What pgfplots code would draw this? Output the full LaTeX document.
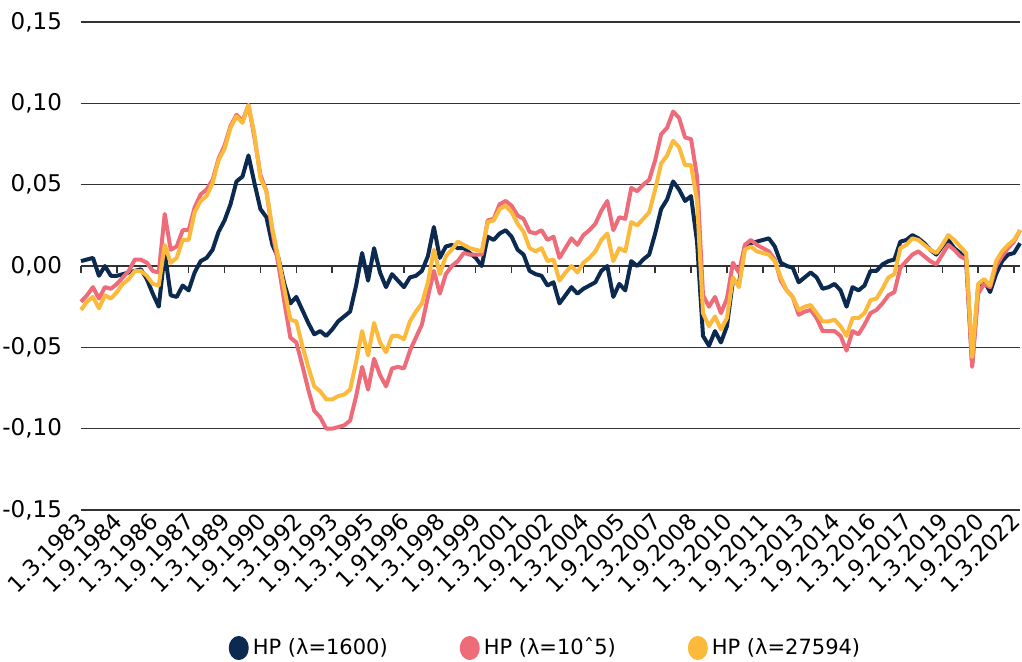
\documentclass[border=0pt]{standalone}
\usepackage{fontspec}
\setmainfont{DejaVu Sans}
\usepackage{pgfplots}
\usepackage{pgfplotstable}
\pgfplotsset{compat=1.18}
\definecolor{navy}{HTML}{0C2A50}
\definecolor{pinkc}{HTML}{EE6C79}
\definecolor{yell}{HTML}{FCBA3C}
\pgfplotstableread{
i n p y
0 0.003 -0.022 -0.027
1 0.004 -0.018 -0.022
2 0.005 -0.013 -0.019
3 -0.006 -0.020 -0.026
4 0.000 -0.013 -0.018
5 -0.006 -0.014 -0.020
6 -0.006 -0.011 -0.016
7 -0.005 -0.007 -0.011
8 -0.004 -0.003 -0.008
9 -0.003 0.004 -0.003
10 -0.002 0.004 -0.003
11 -0.008 0.002 -0.006
12 -0.017 -0.003 -0.011
13 -0.025 -0.004 -0.012
14 0.008 0.032 0.013
15 -0.018 0.010 0.002
16 -0.019 0.012 0.005
17 -0.012 0.022 0.016
18 -0.015 0.022 0.016
19 -0.004 0.036 0.033
20 0.003 0.044 0.040
21 0.005 0.047 0.043
22 0.010 0.053 0.051
23 0.021 0.066 0.065
24 0.028 0.074 0.072
25 0.038 0.086 0.085
26 0.052 0.093 0.092
27 0.055 0.089 0.088
28 0.068 0.099 0.099
29 0.051 0.079 0.081
30 0.035 0.056 0.054
31 0.030 0.046 0.046
32 0.013 0.021 0.023
33 0.005 0.001 0.005
34 -0.011 -0.022 -0.014
35 -0.023 -0.044 -0.033
36 -0.019 -0.047 -0.034
37 -0.027 -0.061 -0.049
38 -0.035 -0.076 -0.062
39 -0.042 -0.089 -0.074
40 -0.040 -0.093 -0.077
41 -0.043 -0.100 -0.082
42 -0.039 -0.100 -0.082
43 -0.034 -0.099 -0.080
44 -0.031 -0.098 -0.079
45 -0.028 -0.095 -0.076
46 -0.012 -0.080 -0.059
47 0.008 -0.062 -0.040
48 -0.009 -0.076 -0.055
49 0.011 -0.057 -0.035
50 -0.004 -0.067 -0.047
51 -0.013 -0.074 -0.053
52 -0.005 -0.063 -0.043
53 -0.009 -0.062 -0.043
54 -0.013 -0.063 -0.045
55 -0.007 -0.052 -0.034
56 -0.006 -0.044 -0.028
57 -0.003 -0.036 -0.023
58 0.006 -0.019 -0.010
59 0.024 -0.003 0.010
60 0.005 -0.017 -0.005
61 0.012 -0.005 0.006
62 0.013 0.000 0.010
63 0.011 0.003 0.015
64 0.011 0.008 0.013
65 0.008 0.007 0.011
66 0.005 0.007 0.010
67 0.000 0.007 0.009
68 0.018 0.028 0.027
69 0.016 0.029 0.028
70 0.020 0.038 0.035
71 0.022 0.040 0.037
72 0.018 0.037 0.033
73 0.010 0.031 0.026
74 0.007 0.029 0.021
75 -0.003 0.021 0.011
76 -0.005 0.020 0.009
77 -0.006 0.022 0.011
78 -0.012 0.016 0.003
79 -0.010 0.018 0.004
80 -0.023 0.005 -0.009
81 -0.018 0.011 -0.004
82 -0.013 0.017 0.000
83 -0.017 0.013 -0.004
84 -0.014 0.019 0.002
85 -0.012 0.022 0.005
86 -0.010 0.026 0.009
87 -0.003 0.034 0.016
88 0.000 0.040 0.020
89 -0.019 0.022 0.003
90 -0.011 0.030 0.011
91 -0.015 0.029 0.009
92 0.003 0.048 0.027
93 0.000 0.046 0.025
94 0.004 0.050 0.029
95 0.007 0.053 0.033
96 0.020 0.065 0.047
97 0.035 0.081 0.063
98 0.041 0.085 0.068
99 0.052 0.095 0.077
100 0.047 0.091 0.073
101 0.040 0.079 0.062
102 0.043 0.078 0.062
103 0.015 0.055 0.040
104 -0.043 -0.018 -0.029
105 -0.049 -0.025 -0.037
106 -0.040 -0.019 -0.031
107 -0.047 -0.029 -0.039
108 -0.037 -0.020 -0.032
109 -0.009 0.002 -0.007
110 -0.011 -0.004 -0.013
111 0.012 0.013 0.010
112 0.014 0.016 0.012
113 0.015 0.013 0.009
114 0.016 0.011 0.008
115 0.017 0.009 0.007
116 0.012 0.004 0.003
117 0.002 -0.009 -0.007
118 0.000 -0.015 -0.015
119 -0.001 -0.019 -0.019
120 -0.010 -0.030 -0.027
121 -0.007 -0.028 -0.025
122 -0.004 -0.027 -0.024
123 -0.007 -0.032 -0.029
124 -0.014 -0.040 -0.034
125 -0.013 -0.040 -0.034
126 -0.011 -0.040 -0.033
127 -0.015 -0.043 -0.037
128 -0.025 -0.052 -0.043
129 -0.013 -0.040 -0.032
130 -0.015 -0.042 -0.032
131 -0.012 -0.036 -0.029
132 -0.003 -0.029 -0.021
133 -0.003 -0.027 -0.020
134 0.001 -0.023 -0.014
135 0.003 -0.018 -0.007
136 0.004 -0.016 -0.005
137 0.015 -0.001 0.011
138 0.016 0.003 0.013
139 0.019 0.007 0.017
140 0.017 0.009 0.016
141 0.014 0.006 0.013
142 0.010 0.003 0.010
143 0.007 0.001 0.008
144 0.012 0.007 0.013
145 0.016 0.013 0.019
146 0.011 0.010 0.016
147 0.008 0.006 0.012
148 0.004 0.004 0.008
149 -0.060 -0.062 -0.056
150 -0.013 -0.017 -0.011
151 -0.009 -0.011 -0.008
152 -0.016 -0.013 -0.012
153 -0.005 0.000 0.003
154 0.003 0.006 0.009
155 0.007 0.011 0.013
156 0.008 0.015 0.016
157 0.014 0.022 0.022
}\datatable
\begin{document}
\begin{tikzpicture}
\begin{axis}[
  scale only axis,
  width=469.5pt, height=244pt,
  at={(0,0)}, anchor=south west,
  xmin=0, xmax=157,
  ymin=-0.15, ymax=0.15,
  axis line style={draw=none},
  ytick={-0.15,-0.10,-0.05,0,0.05,0.10,0.15},
  yticklabels={{-0,15},{-0,10},{-0,05},{0,00},{0,05},{0,10},{0,15}},
  ymajorgrids,
  xmajorgrids=false,
  grid style={black!80, line width=0.7pt},
  major tick length=0pt,
  xtick={0,6,12,18,24,30,36,42,48,54,60,66,72,78,84,90,96,102,108,114,120,126,132,138,144,150,156},
  xticklabels={1.3.1983,1.9.1984,1.3.1986,1.9.1987,1.3.1989,1.9.1990,1.3.1992,1.9.1993,1.3.1995,1.91996,1.3.1998,1.9.1999,1.3.2001,1.9.2002,1.3.2004,1.9.2005,1.3.2007,1.9.2008,1.3.2010,1.9.2011,1.3.2013,1.9.2014,1.3.2016,1.9.2017,1.3.2019,1.9.2020,1.3.2022},
  x tick label style={rotate=45, anchor=east, font=\fontsize{11.3}{13}\selectfont, xshift=1.5pt, yshift=-3pt},
  y tick label style={font=\fontsize{11.5}{13}\selectfont, xshift=-6pt},
  legend columns=3,
  legend cell align=left,
  legend style={at={(0.5,0)}, anchor=center, yshift=-69pt, xshift=-2pt, draw=none, fill=none,
    font=\fontsize{10.5}{12}\selectfont,
    /tikz/every even column/.append style={column sep=34pt}},
  clip=false,
]
\pgfplotsinvokeforeach{0,6,12,18,24,30,36,42,48,54,60,66,72,78,84,90,96,102,108,114,120,126,132,138,144,150,156}{
  \draw[black!80, line width=0.7pt] (axis cs:#1,0) -- ++(0pt,-3.5pt);
}
\addplot[navy, line width=2pt, line join=round, legend image code/.code={\fill[navy] (4pt,0pt) ellipse (4pt and 5pt);}] table[x=i, y=n] {\datatable};
\addlegendentry{HP (λ=1600)}
\addplot[pinkc, line width=2pt, line join=round, legend image code/.code={\fill[pinkc] (4pt,0pt) ellipse (4pt and 5pt);}] table[x=i, y=p] {\datatable};
\addlegendentry{HP (λ=10ˆ5)}
\addplot[yell, line width=2pt, line join=round, legend image code/.code={\fill[yell] (4pt,0pt) ellipse (4pt and 5pt);}] table[x=i, y=y] {\datatable};
\addlegendentry{HP (λ=27594)}
\end{axis}
\pgfresetboundingbox
\path[use as bounding box] (-40.5pt,-75.5pt) rectangle (470.5pt,255pt);
\end{tikzpicture}
\end{document}
